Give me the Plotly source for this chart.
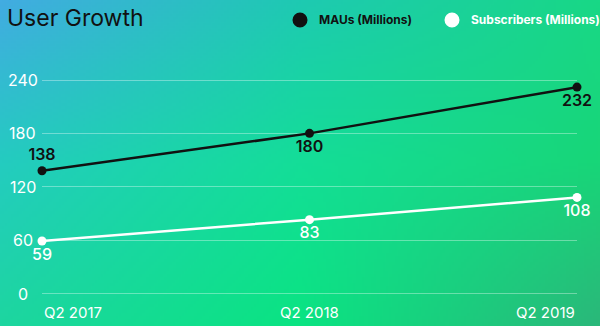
import base64
import struct
import zlib

import numpy as np
import plotly.graph_objects as go

# ---- data ----
quarters = ["Q2 2017", "Q2 2018", "Q2 2019"]
maus = [138, 180, 232]
subscribers = [59, 83, 108]
y_ticks = [0, 60, 120, 180, 240]

W, H = 600, 326
FONT = "Inter"


# ---- gradient backdrop (3x3 control colours, bilinear blend) ----
def gradient(w, h):
    ctrl = np.array([
        [[66, 172, 226], [30, 202, 178], [24, 216, 134]],
        [[36, 204, 192], [20, 222, 152], [24, 214, 120]],
        [[29, 214, 160], [10, 228, 130], [43, 184, 122]],
    ], dtype=float)
    gx = np.linspace(0, 2, w)
    gy = np.linspace(0, 2, h)
    ix = np.clip(gx.astype(int), 0, 1)
    iy = np.clip(gy.astype(int), 0, 1)
    fx = (gx - ix)[None, :, None]
    fy = (gy - iy)[:, None, None]
    c00 = ctrl[iy][:, ix]
    c01 = ctrl[iy][:, ix + 1]
    c10 = ctrl[iy + 1][:, ix]
    c11 = ctrl[iy + 1][:, ix + 1]
    img = (c00 * (1 - fx) * (1 - fy) + c01 * fx * (1 - fy)
           + c10 * (1 - fx) * fy + c11 * fx * fy)
    return np.clip(img, 0, 255).astype(np.uint8)


def png_data_uri(arr):
    h, w, _ = arr.shape
    raw = b"".join(b"\x00" + arr[r].tobytes() for r in range(h))

    def chunk(tag, data):
        body = tag + data
        return (struct.pack(">I", len(data)) + body
                + struct.pack(">I", zlib.crc32(body) & 0xFFFFFFFF))

    png = (b"\x89PNG\r\n\x1a\n"
           + chunk(b"IHDR", struct.pack(">IIBBBBB", w, h, 8, 2, 0, 0, 0))
           + chunk(b"IDAT", zlib.compress(raw, 9))
           + chunk(b"IEND", b""))
    return "data:image/png;base64," + base64.b64encode(png).decode()


backdrop = png_data_uri(gradient(200, 109))

fig = go.Figure()
xs = list(range(len(quarters)))

fig.add_trace(go.Scatter(
    x=xs, y=maus, mode="lines+markers+text",
    text=[str(v) for v in maus],
    textposition=["top center", "bottom center", "bottom center"],
    textfont=dict(family=FONT, size=16, color="#111111", weight=600),
    line=dict(color="#111111", width=2.5),
    marker=dict(color="#111111", size=9),
    cliponaxis=False, showlegend=False, hoverinfo="skip",
))
fig.add_trace(go.Scatter(
    x=xs, y=subscribers, mode="lines+markers+text",
    text=[str(v) for v in subscribers],
    textposition="bottom center",
    textfont=dict(family=FONT, size=16, color="white", weight=500),
    line=dict(color="white", width=2.5),
    marker=dict(color="white", size=9),
    cliponaxis=False, showlegend=False, hoverinfo="skip",
))

# ---- legend: dot + label pairs in the top-right corner ----
legend_items = [
    ("MAUs (Millions)", "#111111", 300),
    ("Subscribers (Millions)", "white", 452),
]
for label, colour, cx in legend_items:
    r = 7.5
    fig.add_shape(type="circle", xref="paper", yref="paper",
                  x0=(cx - r) / W, x1=(cx + r) / W,
                  y0=1 - (20 + r) / H, y1=1 - (20 - r) / H,
                  fillcolor=colour, line=dict(width=0))
    fig.add_annotation(x=(cx + 17) / W, xref="paper", y=1 - 20 / H,
                       yref="paper", text=f"<b>{label}</b>",
                       showarrow=False, xanchor="left", yanchor="middle",
                       font=dict(family=FONT, size=12, color=colour))

# y tick labels, centred in the left gutter
for v in y_ticks:
    fig.add_annotation(x=22.5 / W, xref="paper", y=v, yref="y",
                       text=str(v), showarrow=False, xanchor="center",
                       yanchor="middle",
                       font=dict(family=FONT, size=16, color="white"))

# x category labels
anchors = ["left", "center", "right"]
for i, q in enumerate(quarters):
    fig.add_annotation(x=i, xref="x", y=1 - 312 / H, yref="paper",
                       text=q, showarrow=False, xanchor=anchors[i],
                       yanchor="middle",
                       font=dict(family=FONT, size=15, color="white"))

fig.update_layout(
    width=W, height=H,
    margin=dict(l=0, r=0, t=0, b=0),
    paper_bgcolor="#20d090", plot_bgcolor="rgba(0,0,0,0)",
    images=[dict(source=backdrop, xref="paper", yref="paper",
                 x=0, y=1, sizex=1, sizey=1, xanchor="left",
                 yanchor="top", sizing="stretch", layer="below")],
    title=dict(text="User Growth", x=7 / W, xanchor="left",
               y=1 - 17.5 / H, yanchor="middle",
               font=dict(family=FONT, size=23, color="#111111")),
    xaxis=dict(domain=[42 / W, 577 / W], range=[0, 2], showgrid=False,
               zeroline=False, showticklabels=False, fixedrange=True),
    yaxis=dict(domain=[1 - 297.95 / H, 1 - 71.1 / H], range=[-5, 250],
               tickvals=y_ticks, showticklabels=False,
               gridcolor="rgba(255,255,255,0.35)", gridwidth=1,
               zeroline=False, fixedrange=True),
    showlegend=False,
)

fig.write_html("out.html")
